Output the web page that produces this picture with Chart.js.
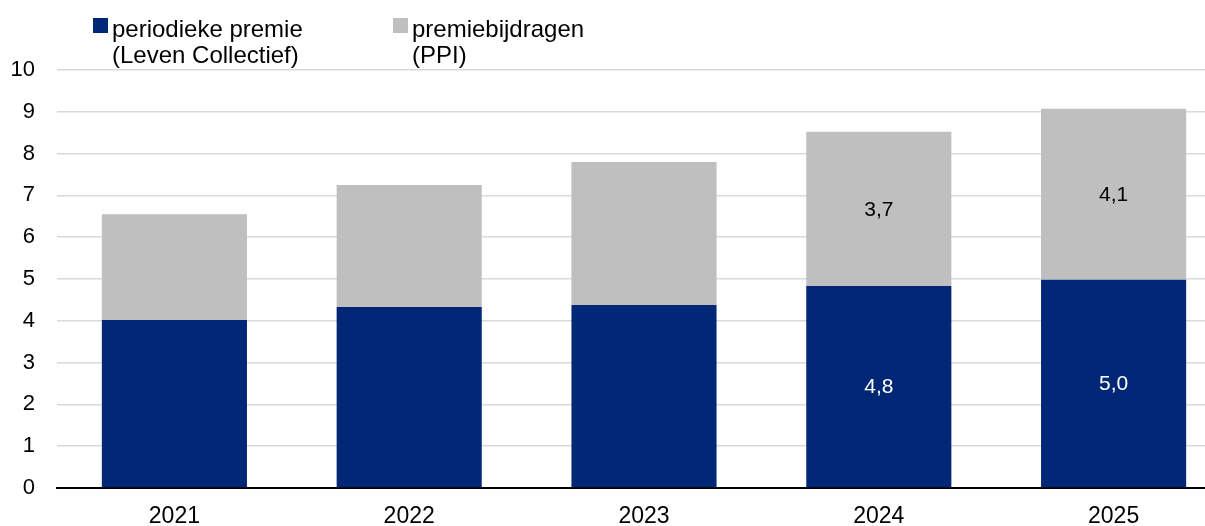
<!DOCTYPE html>
<html lang="nl">
<head>
<meta charset="UTF-8">
<title>Premies</title>
<script src="https://cdn.jsdelivr.net/npm/chart.js@4.4.1/dist/chart.umd.min.js"></script>
<style>
  html, body { margin:0; padding:0; background:#fff; overflow:hidden; }
  #wrap { position:relative; width:1205px; height:526px; overflow:hidden; font-family:"Liberation Sans", Arial, sans-serif; }
  #c { position:absolute; left:0; top:0; }
  #legend { position:absolute; top:0; left:0; font-size:24px; color:#000; line-height:26px; }
  .item { position:absolute; top:16px; white-space:nowrap; }
  .box { position:absolute; top:18px; width:15px; height:15px; }
</style>
</head>
<body>
<div id="wrap">
  <canvas id="c" width="1231" height="531"></canvas>
  <div id="legend">
    <div class="box" style="left:93px; background:#002776;"></div>
    <div class="item" style="left:112px;">periodieke premie<br>(Leven Collectief)</div>
    <div class="box" style="left:393px; background:#bfbfbf;"></div>
    <div class="item" style="left:412px;">premiebijdragen<br>(PPI)</div>
  </div>
</div>
<script>
// waarden
const years = ["2021", "2022", "2023", "2024", "2025"];
const periodiekePremie = [4.02, 4.33, 4.38, 4.83, 4.98];
const premiebijdragen = [2.53, 2.92, 3.42, 3.69, 4.09];
// labels alleen bij 2024 en 2025
const showLabel = [false, false, false, true, true];

const FONT = "Liberation Sans";

// eenvoudige plugin voor de waardelabels in de staven
const barLabels = {
  id: "barLabels",
  afterDatasetsDraw(chart) {
    const ctx = chart.ctx;
    ctx.save();
    ctx.font = "21px '" + FONT + "'";
    ctx.textAlign = "center";
    ctx.textBaseline = "middle";
    chart.data.datasets.forEach((ds, di) => {
      const meta = chart.getDatasetMeta(di);
      meta.data.forEach((bar, i) => {
        if (!showLabel[i]) return;
        const txt = ds.data[i].toFixed(1).replace(".", ",");
        const y = (bar.y + bar.base) / 2 + 1;
        ctx.fillStyle = ds.labelColor;
        ctx.fillText(txt, bar.x, y);
      });
    });
    ctx.restore();
  }
};

new Chart(document.getElementById("c"), {
  type: "bar",
  data: {
    labels: years,
    datasets: [
      { label: "periodieke premie (Leven Collectief)", data: periodiekePremie,
        backgroundColor: "#002776", labelColor: "#ffffff" },
      { label: "premiebijdragen (PPI)", data: premiebijdragen,
        backgroundColor: "#bfbfbf", labelColor: "#000000" }
    ]
  },
  options: {
    responsive: false,
    animation: false,
    layout: { padding: { top: 70, right: 0, left: 0, bottom: 0 } },
    datasets: { bar: { categoryPercentage: 0.618, barPercentage: 1.0 } },
    plugins: { legend: { display: false }, tooltip: { enabled: false } },
    scales: {
      x: {
        stacked: true,
        grid: { display: false, drawTicks: false },
        border: { color: "#000", width: 2 },
        ticks: { color: "#000", font: { family: FONT, size: 23 }, padding: 15 },
        afterFit(s) { s.height = 43; }
      },
      y: {
        stacked: true,
        min: 0, max: 10,
        grid: { color: "#d9d9d9", lineWidth: 1.5, drawTicks: false },
        border: { display: false },
        ticks: { stepSize: 1, color: "#000", font: { family: FONT, size: 22 }, padding: 22 },
        afterFit(s) { s.width = 57; }
      }
    }
  },
  plugins: [barLabels]
});
</script>
</body>
</html>
